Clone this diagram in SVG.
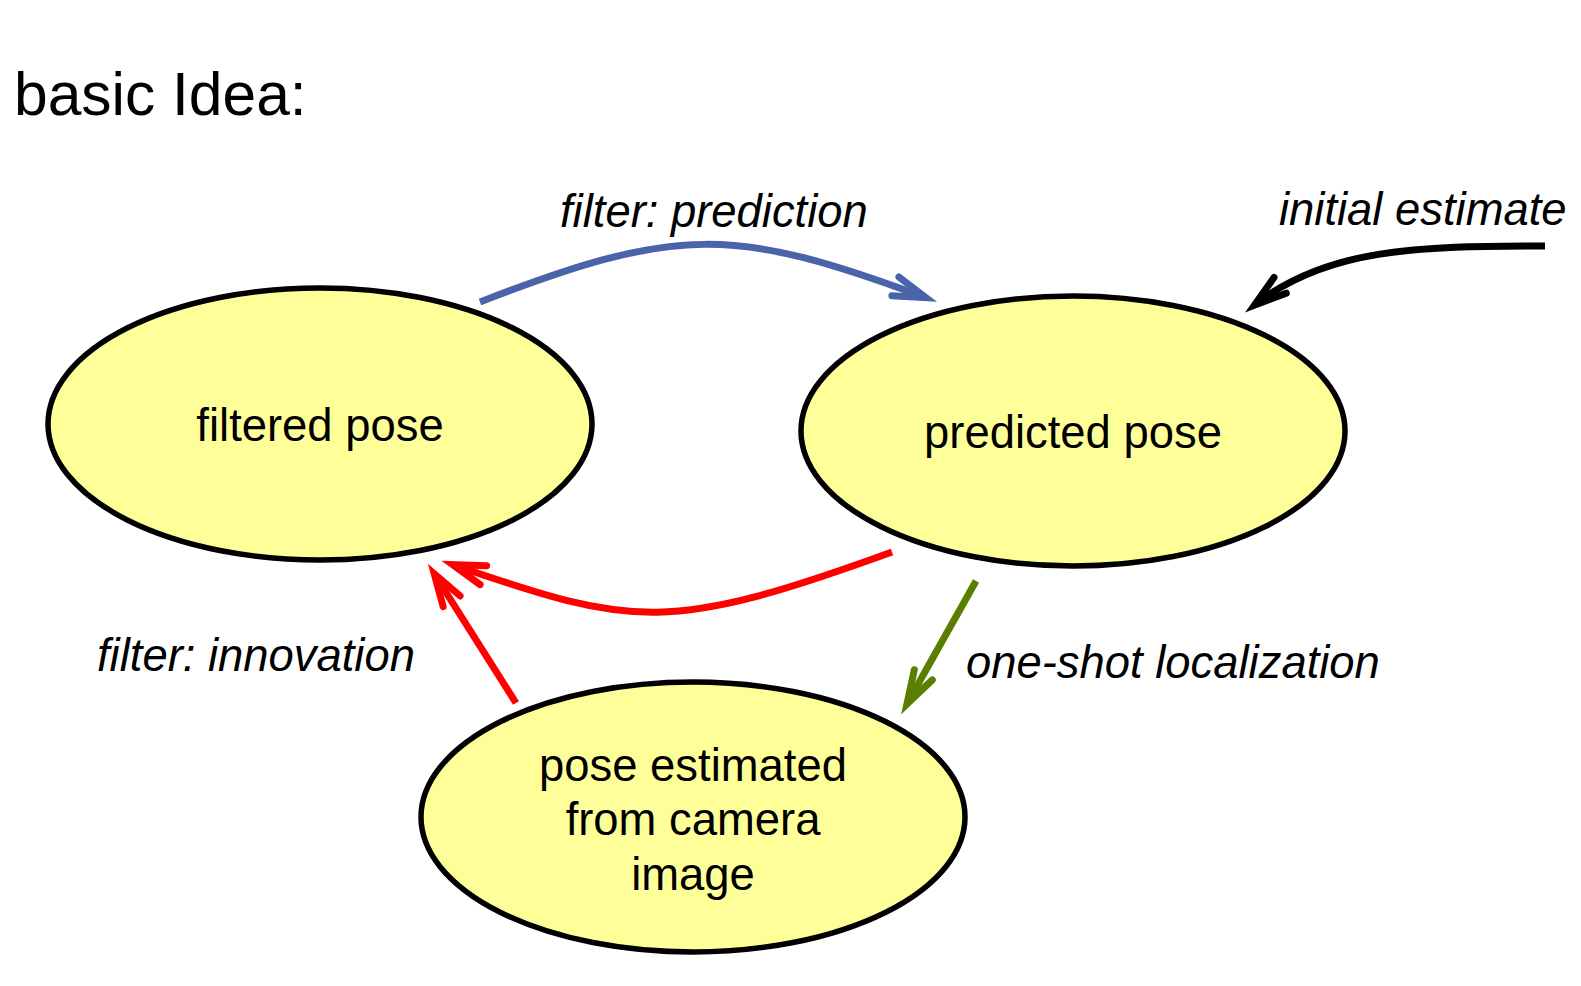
<svg xmlns="http://www.w3.org/2000/svg" width="1581" height="986" viewBox="0 0 1581 986">
<style>
.node{fill:#FFFF99;stroke:#000;stroke-width:5.5}
.nt{font-family:"Liberation Sans",Arial,sans-serif;font-size:45.4px;fill:#000;text-anchor:middle}
.lbl{font-family:"Liberation Sans",Arial,sans-serif;font-size:45.4px;font-style:italic;fill:#000}
.c{fill:none;stroke-width:7}
.h{fill:none;stroke-width:7;stroke-linecap:round;stroke-linejoin:miter;stroke-miterlimit:10}
</style>
<defs>
<marker id="ab" markerUnits="userSpaceOnUse" markerWidth="80" markerHeight="80" viewBox="-40 -40 80 80" refX="-2" refY="0" orient="auto" overflow="visible">
<path class="h" d="M-32.5,-10 L0,0 L-32.5,10" stroke="#4A64AA"/>
</marker>
<marker id="ak" markerUnits="userSpaceOnUse" markerWidth="80" markerHeight="80" viewBox="-40 -40 80 80" refX="-2" refY="0" orient="auto" overflow="visible">
<path class="h" d="M-32.5,-10 L0,0 L-32.5,10" stroke="#000"/>
</marker>
<marker id="ar" markerUnits="userSpaceOnUse" markerWidth="80" markerHeight="80" viewBox="-40 -40 80 80" refX="-2" refY="0" orient="auto" overflow="visible">
<path class="h" d="M-32.5,-10 L0,0 L-32.5,10" stroke="#FF0000"/>
</marker>
<marker id="ag" markerUnits="userSpaceOnUse" markerWidth="80" markerHeight="80" viewBox="-40 -40 80 80" refX="-2" refY="0" orient="auto" overflow="visible">
<path class="h" d="M-33.5,-10.3 L0,0 L-33.5,10.3" stroke="#5A7F00"/>
</marker>
</defs>
<rect width="1581" height="986" fill="#fff"/>
<text x="14" y="115" font-family="'Liberation Sans',Arial,sans-serif" font-size="60.5" fill="#000">basic Idea:</text>

<g id="filtered">
<ellipse class="node" cx="320" cy="424" rx="272" ry="136"/>
<text class="nt" x="320" y="441">filtered pose</text>
</g>
<g id="predicted">
<ellipse class="node" cx="1073" cy="431" rx="272" ry="135"/>
<text class="nt" x="1073" y="448">predicted pose</text>
</g>
<g id="camera">
<ellipse class="node" cx="693" cy="817" rx="272" ry="135"/>
<text class="nt" x="693" y="781">pose estimated</text>
<text class="nt" x="693" y="835">from camera</text>
<text class="nt" x="693" y="890">image</text>
</g>

<g id="connectors">
<path class="c" stroke="#4A64AA" d="M480,302 C676,226 733,226 924,297" marker-end="url(#ab)"/>
<path class="c" stroke="#000" d="M1545,246 C1415,246 1327,249 1256,304" marker-end="url(#ak)"/>
<path class="c" stroke="#FF0000" d="M892,552 C669,633 634,627 454.5,565.2" marker-end="url(#ar)"/>
<path class="c" stroke="#FF0000" d="M516,703 L435.3,575.5" marker-end="url(#ar)"/>
<path class="c" stroke="#5A7F00" d="M976,581 L907.9,702.3" marker-end="url(#ag)"/>
</g>

<g id="labels">
<text class="lbl" x="560" y="227">filter: prediction</text>
<text class="lbl" x="1279" y="225">initial estimate</text>
<text class="lbl" x="966" y="678">one-shot localization</text>
<text class="lbl" x="97" y="671">filter: innovation</text>
</g>
</svg>
